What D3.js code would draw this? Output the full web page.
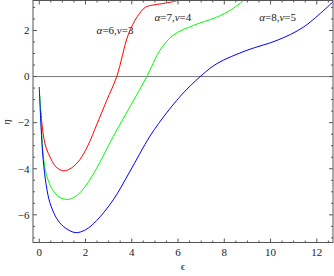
<html>
<head>
  <meta charset="UTF-8">
  <script src="https://d3js.org/d3.v7.min.js"></script>
</head>
<style>
body { margin: 0; background: #fff; }
</style>
<body>
<script>

var width = 334,
    height = 276;
var serif = "'Liberation Serif', 'Times New Roman', 'DejaVu Serif', serif";

// values
var xTicks = [0, 2, 4, 6, 8, 10, 12];
var yTicks = [-6, -4, -2, 0, 2];

var red = [[0.07,-1.49],[0.15,-2.35],[0.29,-3.07],[0.51,-3.58],[0.72,-3.92],[1.05,-4.09],
  [1.4,-3.96],[1.76,-3.6],[2.1,-3.0],[2.48,-2.1],[2.92,-1.03],[3.35,0],[3.85,1.82],[4.24,2.6],
  [4.58,3.0],[4.9,3.1],[5.3,3.16],[5.66,3.22],[5.97,3.3]];

var green = [[0.03,-0.85],[0.1,-2.4],[0.17,-3.4],[0.32,-4.3],[0.6,-4.95],[0.9,-5.25],[1.26,-5.33],
  [1.6,-5.18],[2.0,-4.75],[2.48,-3.98],[3.2,-2.6],[3.93,-1.3],[4.65,0],
  [5.22,1.14],[5.8,1.8],[6.67,2.22],[7.68,2.58],[8.3,2.9],[8.83,3.3]];

var blue = [[0,-0.45],[0.08,-2.2],[0.17,-3.6],[0.3,-4.7],[0.46,-5.47],[0.75,-6.15],[1.04,-6.5],
  [1.55,-6.77],[2.0,-6.65],[2.48,-6.25],[3.2,-5.35],[3.93,-4.1],[4.79,-2.58],[5.51,-1.57],
  [5.95,-1.03],[6.23,-0.71],[6.96,0],[7.68,0.56],[8.98,1.14],[10.28,1.57],[11.43,2.15],[12.76,3.3]];

var series = [
  {data: red,   color: '#ff0000', a: '6', v: '3', lx: 2.48, ly: 1.83},
  {data: green, color: '#00ff00', a: '7', v: '4', lx: 4.98, ly: 2.41},
  {data: blue,  color: '#0000ff', a: '8', v: '5', lx: 9.51, ly: 2.41}
];

var pLeft = 33, pRight = 333, pTop = 0.5, pBottom = 242.5;

var x = d3.scaleLinear().domain([-0.27, 12.7]).range([pLeft, pRight]);
var y = d3.scaleLinear().domain([-7.2, 3.3]).range([pBottom, pTop]);

var svg = d3.select('body')
  .append('svg')
  .attr('width', width)
  .attr('height', height)
  .style('font-family', serif);

svg.append('clipPath').attr('id', 'clip')
  .append('rect')
  .attr('x', pLeft).attr('y', pTop)
  .attr('width', pRight - pLeft).attr('height', pBottom - pTop);

// zero line
svg.append('line')
  .attr('x1', pLeft).attr('x2', pRight)
  .attr('y1', y(0)).attr('y2', y(0))
  .attr('stroke', '#777').attr('stroke-width', 1);

var line = d3.line()
  .x(function(d){ return x(d[0]); })
  .y(function(d){ return y(d[1]); })
  .curve(d3.curveCatmullRom.alpha(0.5));

var g = svg.append('g').attr('clip-path', 'url(#clip)');
g.selectAll('path')
  .data(series)
  .enter()
  .append('path')
  .attr('d', function(d){ return line(d.data); })
  .attr('fill', 'none')
  .attr('stroke', function(d){ return d.color; })
  .attr('stroke-width', 1);

// labels
var lab = svg.append('g')
  .selectAll('text')
  .data(series)
  .enter()
  .append('text')
  .attr('x', function(d){ return x(d.lx); })
  .attr('y', function(d){ return y(d.ly); })
  .attr('font-size', 11)
  .attr('fill', '#222');
lab.append('tspan').attr('font-style', 'italic').text('α');
lab.append('tspan').text(function(d){ return '=' + d.a + ','; });
lab.append('tspan').attr('font-style', 'italic').text('ν');
lab.append('tspan').text(function(d){ return '=' + d.v; });

// frame with ticks
var frame = svg.append('g');
frame.append('rect')
  .attr('x', pLeft).attr('y', pTop)
  .attr('width', pRight - pLeft).attr('height', pBottom - pTop)
  .attr('fill', 'none').attr('stroke', '#555').attr('stroke-width', 1);

var xMinor = d3.range(0, 12.71, 0.5).filter(function(v){ return v % 2 !== 0; });
var yMinor = d3.range(-7, 3.31, 0.5).filter(function(v){ return v % 2 !== 0; });

function xt(vals, len) {
  vals.forEach(function(v){
    frame.append('line').attr('x1', x(v)).attr('x2', x(v))
      .attr('y1', pBottom).attr('y2', pBottom - len).attr('stroke', '#555');
    frame.append('line').attr('x1', x(v)).attr('x2', x(v))
      .attr('y1', pTop).attr('y2', pTop + len).attr('stroke', '#555');
  });
}
function yt(vals, len) {
  vals.forEach(function(v){
    frame.append('line').attr('y1', y(v)).attr('y2', y(v))
      .attr('x1', pLeft).attr('x2', pLeft + len).attr('stroke', '#555');
    frame.append('line').attr('y1', y(v)).attr('y2', y(v))
      .attr('x1', pRight).attr('x2', pRight - len).attr('stroke', '#555');
  });
}
xt(xTicks, 4); xt(xMinor, 2);
yt(yTicks, 4); yt(yMinor, 2);

svg.append('g').selectAll('text')
  .data(xTicks)
  .enter()
  .append('text')
  .attr('x', function(d){ return x(d); })
  .attr('y', 256)
  .attr('text-anchor', 'middle')
  .attr('font-size', 11)
  .attr('fill', '#222')
  .text(function(d){ return d; });

svg.append('g').selectAll('text')
  .data(yTicks)
  .enter()
  .append('text')
  .attr('x', 29.5)
  .attr('y', function(d){ return y(d) + 3.8; })
  .attr('text-anchor', 'end')
  .attr('font-size', 11)
  .attr('fill', '#222')
  .text(function(d){ return d < 0 ? '\u2212' + (-d) : d; });

svg.append('text')
  .attr('x', 183).attr('y', 270)
  .attr('text-anchor', 'middle')
  .attr('font-size', 11)
  .attr('fill', '#222')
  .text('\u03f5');

svg.append('text')
  .attr('transform', 'translate(10,122) rotate(-90)')
  .attr('text-anchor', 'middle')
  .attr('font-size', 11)
  .attr('font-style', 'italic')
  .attr('fill', '#222')
  .text('η');

</script>
</body>
</html>
